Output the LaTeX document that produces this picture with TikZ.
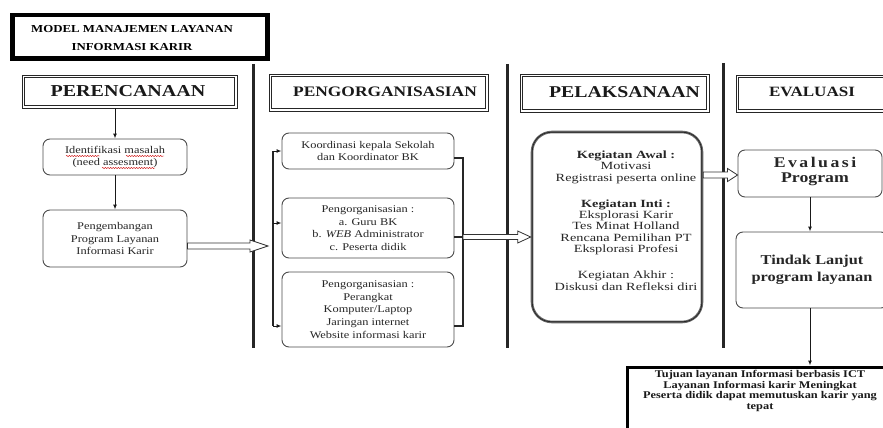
\documentclass[tikz,border=0pt]{standalone}
\usepackage{fontspec}
\setmainfont[FakeStretch=1.2]{Liberation Serif}
\newfontfamily\widefont[FakeStretch=1.3]{Liberation Serif}
\usetikzlibrary{calc,arrows.meta,decorations.pathmorphing}
\begin{document}
\begin{tikzpicture}[x=1pt,y=-1pt,
  vline/.style={line width=3pt, black!85},
  hdr/.style={draw=black!85, line width=0.8pt, inner sep=0pt, fill=white},
  hin/.style={draw=black!85, line width=0.8pt},
  htxt/.style={font=\bfseries\fontsize{#1}{#1}\selectfont, text=black!90, inner sep=0pt},
  rbox/.style={draw=black!70, line width=0.9pt, rounded corners=7pt, inner sep=0pt, fill=white, align=center, text=black!85},
  body/.style={font=\fontsize{10.3}{12.6}\selectfont},
  brk/.style={line width=1.3pt, black!85},
  arr/.style={line width=1pt, black!90, -{Latex[length=5pt,width=4pt]}},
  hollow/.style n args={3}{draw=black!80, line width=0.8pt, fill=white, to path={
    let \p1=(\tikztostart), \p2=(\tikztotarget) in
    (\x1,\y1+#1) -- (\x2-#3,\y1+#1) -- (\x2-#3,\y1+#2) -- (\x2,\y1) -- (\x2-#3,\y1-#2) -- (\x2-#3,\y1-#1) -- (\x1,\y1-#1) -- cycle}},
  squig/.style={red!80!black, line width=0.4pt, decorate, decoration={snake, amplitude=0.6pt, segment length=2.6pt}}
]
\useasboundingbox (0,0) rectangle (883,428);
\clip (0,0) rectangle (883,428);

% title
\node[draw=black, line width=4.5pt, minimum width=255pt, minimum height=43.5pt, inner sep=0pt] (title) at (140,37) {};
\node[font=\bfseries\fontsize{10.7}{18}\selectfont, align=center, inner sep=0pt] (ttxt) at (132,38) {MODEL MANAJEMEN LAYANAN\\INFORMASI KARIR};

% dividers
\draw[vline] (253,64) -- (253,348);
\draw[vline] (507,64) -- (507,348);
\draw[vline] (723,63) -- (723,348);

% headers
\node[hdr, minimum width=215pt, minimum height=33pt] (h1) at (129.5,91.5) {};
\draw[hin] ([shift={(2.6,2.6)}]h1.north west) rectangle ([shift={(-2.6,-2.6)}]h1.south east);
\node[htxt=16.7] (t1) at (128,91.5) {PERENCANAAN};
\node[hdr, minimum width=219pt, minimum height=37pt] (h2) at (378.5,92.5) {};
\draw[hin] ([shift={(2.6,2.6)}]h2.north west) rectangle ([shift={(-2.6,-2.6)}]h2.south east);
\node[htxt=14.5] (t2) at (385,91.5) {PENGORGANISASIAN};
\node[hdr, minimum width=189pt, minimum height=38pt] (h3) at (614.5,93) {};
\draw[hin] ([shift={(2.6,2.6)}]h3.north west) rectangle ([shift={(-2.6,-2.6)}]h3.south east);
\node[htxt=16.5] (t3) at (624.5,92) {PELAKSANAAN};
\node[hdr, minimum width=152pt, minimum height=37pt] (h4) at (812,93.5) {};
\draw[hin] ([shift={(2.6,2.6)}]h4.north west) rectangle ([shift={(-2.6,-2.6)}]h4.south east);
\node[htxt=14.2] (t4) at (812,92) {EVALUASI};

% column 1
\node[rbox, body, minimum width=144pt, minimum height=36pt] (id) at (115,157) {Identifikasi masalah\\(need assesment)};
\node[rbox, body, minimum width=144pt, minimum height=57pt] (pg) at (115,238.5) {Pengembangan\\Program Layanan\\Informasi Karir};
\draw[arr] (id.north |- h1.south) -- (id.north);
\draw[arr] (id.south) -- (pg.north);

% column 2
\node[rbox, body, minimum width=172pt, minimum height=36pt] (k1) at (368,151) {Koordinasi kepala Sekolah\\dan Koordinator BK};
\node[rbox, body, minimum width=172pt, minimum height=60pt] (k2) at (368,228) {Pengorganisasian :\\a. Guru BK\\b. \textit{WEB} Administrator\\c. Peserta didik};
\node[rbox, body, minimum width=172pt, minimum height=75pt] (k3) at (368,309.5) {Pengorganisasian :\\Perangkat\\Komputer/Laptop\\Jaringan internet\\Website informasi karir};

\coordinate (lbt) at (273,151);
\coordinate (lbm) at (273,223);
\coordinate (lbb) at (273,326);
\draw[brk] (lbt) -- (lbb);
\draw[arr] (lbt) -- (k1.west);
\draw[arr] (lbm) -- (k2.west |- lbm);
\draw[arr] (lbb) -- (k3.west |- lbb);

\coordinate (rbt) at (463,158);
\coordinate (rbm) at (463,237);
\coordinate (rbb) at (463,326);
\draw[brk] (k1.east |- rbt) -- (rbt) -- (rbb) -- (k3.east |- rbb);
\draw[brk] (k2.east |- rbm) -- (rbm);

% arrow 1
\coordinate (a1s) at ($(pg.east)+(0,7.5)$);
\coordinate (a1e) at (268,246);
\draw[hollow={3pt}{6pt}{18pt}] (a1s) to (a1e);

% column 3
\node[draw=black!60, line width=2.6pt, rounded corners=20pt, minimum width=170pt, minimum height=190pt, inner sep=0pt, fill=white] (pel) at (617,227) {};
\draw[black!85, line width=0.7pt, rounded corners=18.5pt] ([shift={(1.6,1.6)}]pel.north west) rectangle ([shift={(-1.6,-1.6)}]pel.south east);
\node[font=\widefont\fontsize{11}{11.3}\selectfont, align=center, text=black!85, inner sep=0pt] (ptxt) at (626,220.5) {\textbf{Kegiatan Awal :}\\Motivasi\\Registrasi peserta online\\[15pt]\textbf{Kegiatan Inti :}\\Eksplorasi Karir\\Tes Minat Holland\\Rencana Pemilihan PT\\Eksplorasi Profesi\\[15pt]Kegiatan Akhir :\\Diskusi dan Refleksi diri};
\draw[hollow={2.5pt}{6pt}{13pt}] (rbm) to (pel.west);

% column 4
\node[rbox, font=\bfseries\fontsize{14.8}{15}\selectfont, minimum width=144pt, minimum height=47pt] (ep) at (810,173.5) {};
\node[font=\bfseries\fontsize{14.8}{15}\selectfont, align=center, text=black!85, inner sep=0pt] (eptxt) at (815,171) {E\,v\,a\,l\,u\,a\,s\,i\\Program};
\node[rbox, font=\bfseries\fontsize{13.6}{17}\selectfont, minimum width=152pt, minimum height=76pt] (tl) at (812,270) {Tindak Lanjut\\program layanan};
\coordinate (a3s) at (pel.east |- 0,175);
\draw[hollow={3pt}{6.5pt}{10pt}] (a3s) to (ep.west);
\draw[arr] (ep.south) -- (ep.south |- tl.north);

\node[draw=black, line width=3pt, minimum width=266pt, minimum height=73pt, inner sep=0pt, fill=white] (fb) at (760,403.5) {};
\node[font=\bfseries\fontsize{10.3}{10.6}\selectfont, align=center, text=black!90, inner sep=0pt] (ftxt) at (760,391) {Tujuan layanan Informasi berbasis ICT\\Layanan Informasi karir Meningkat\\Peserta didik dapat memutuskan karir yang\\tepat};
\draw[arr] (ep.south |- tl.south) -- (ep.south |- fb.north);

% spell-check marks
\draw[squig] (66,156) -- (100,156);
\draw[squig] (126,156) -- (164,156);
\draw[squig] (102,168) -- (155,168);
\end{tikzpicture}
\end{document}
